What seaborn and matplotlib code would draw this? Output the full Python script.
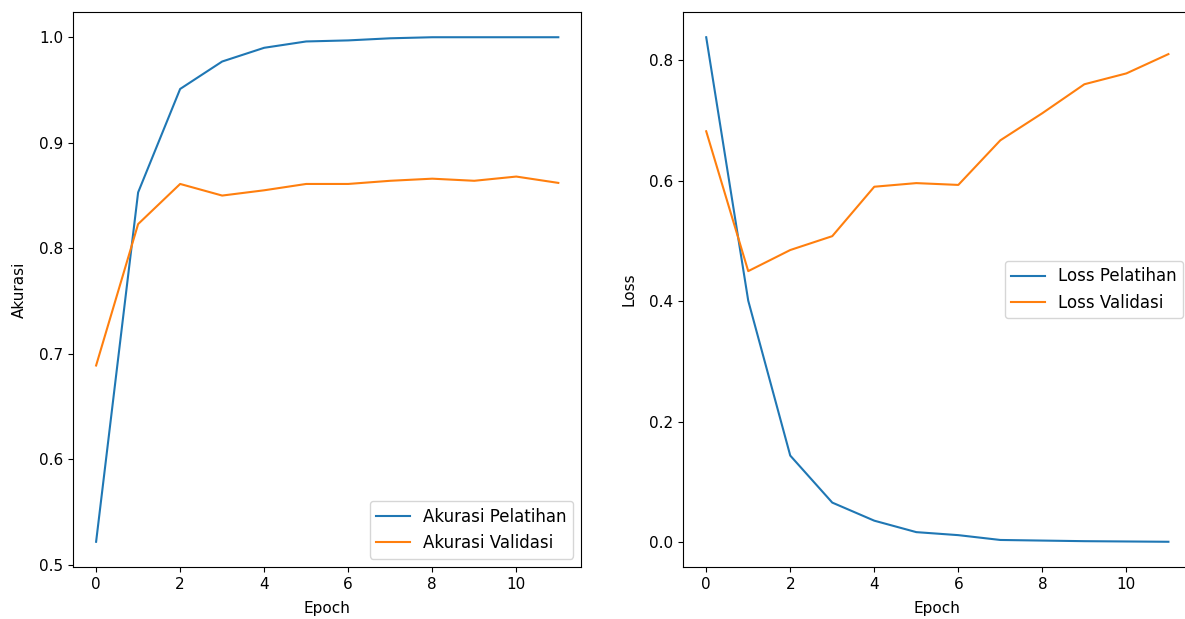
import numpy as np
import pandas as pd
import matplotlib
matplotlib.use("Agg")
import matplotlib.pyplot as plt
import seaborn as sns

# nilai
epochs = list(range(12))
train_acc = [0.522, 0.853, 0.951, 0.977, 0.990, 0.996, 0.997, 0.999, 1.000, 1.000, 1.000, 1.000]
val_acc = [0.689, 0.823, 0.861, 0.850, 0.855, 0.861, 0.861, 0.864, 0.866, 0.864, 0.868, 0.862]
train_loss = [0.838, 0.401, 0.144, 0.066, 0.036, 0.017, 0.012, 0.004, 0.003, 0.002, 0.0015, 0.001]
val_loss = [0.682, 0.450, 0.485, 0.508, 0.590, 0.596, 0.593, 0.667, 0.712, 0.760, 0.778, 0.810]

blue = "#1f77b4"
orange = "#ff7f0e"

fig, (ax1, ax2) = plt.subplots(1, 2, figsize=(11.85, 6.19), dpi=100)
# gambar asli terpotong di sisi kanan
fig.subplots_adjust(left=0.0616, right=1.0055, top=0.9806, bottom=0.084, wspace=0.2)

# Akurasi
sns.lineplot(x=epochs, y=train_acc, ax=ax1, color=blue, label="Akurasi Pelatihan")
sns.lineplot(x=epochs, y=val_acc, ax=ax1, color=orange, label="Akurasi Validasi")
ax1.set_xlabel("Epoch", fontsize=11, labelpad=7)
ax1.set_ylabel("Akurasi", fontsize=11, labelpad=9)
ax1.legend(loc="lower right", fontsize=12)

# Loss
sns.lineplot(x=epochs, y=train_loss, ax=ax2, color=blue, label="Loss Pelatihan")
sns.lineplot(x=epochs, y=val_loss, ax=ax2, color=orange, label="Loss Validasi")
ax2.set_xlabel("Epoch", fontsize=11, labelpad=7)
ax2.set_ylabel("Loss", fontsize=11, labelpad=9)
ax2.legend(loc="center right", fontsize=12)

for ax in (ax1, ax2):
    ax.tick_params(labelsize=11)

fig.savefig("out.png", dpi=100)
